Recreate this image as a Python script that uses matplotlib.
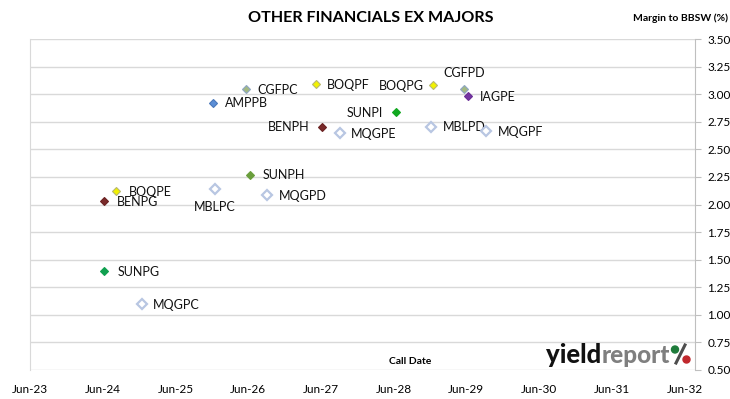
import matplotlib
matplotlib.use("Agg")
import matplotlib.pyplot as plt
import matplotlib.dates as mdates
import pandas as pd
from matplotlib.patches import Circle

# securities, call dates and margins
names = ["AMPPB", "CGFPC", "BOQPF", "BOQPG", "CGFPD", "IAGPE", "SUNPI", "BENPH", "MQGPE",
         "MBLPD", "MQGPF", "SUNPH", "BOQPE", "BENPG", "MBLPC", "MQGPD", "SUNPG", "MQGPC"]
call_dates = ["2025-12-20", "2026-06-05", "2027-05-20", "2029-01-01", "2029-06-05", "2029-06-25",
              "2028-06-25", "2027-06-20", "2027-09-20", "2028-12-20", "2029-09-20", "2026-06-25",
              "2024-08-20", "2024-06-20", "2025-12-28", "2026-09-20", "2024-06-22", "2024-12-28"]
margins = [2.92, 3.05, 3.09, 3.08, 3.05, 2.98, 2.84, 2.70, 2.65,
           2.70, 2.67, 2.27, 2.12, 2.03, 2.14, 2.09, 1.40, 1.10]

# marker style per security: (face, edge)
styles = {
    "AMPPB": ("#5B8ED6", "#4A78BA"),
    "CGFPC": ("#A3B982", "#8FA6C4"),
    "CGFPD": ("#A3B982", "#8FA6C4"),
    "BOQPF": ("#F2F200", "#B8B870"),
    "BOQPG": ("#F2F200", "#B8B870"),
    "BOQPE": ("#F2F200", "#B8B870"),
    "IAGPE": ("#7434A2", "#6A2E96"),
    "SUNPI": ("#11A820", "#11A820"),
    "SUNPG": ("#10A050", "#10A050"),
    "SUNPH": ("#6A9E3C", "#6A9E3C"),
    "BENPH": ("#7A2A2A", "#6A2222"),
    "BENPG": ("#7A2A2A", "#6A2222"),
}
hollow = ("white", "#B8C6E2")

# label placement: (dx px, dy px, ha)
label_pos = {
    "AMPPB": (12, 0, "left"), "CGFPC": (11, -1, "left"), "BOQPF": (11, -1, "left"),
    "BOQPG": (-10, -1, "right"), "CGFPD": (0, 16, "center"), "IAGPE": (12, -1, "left"),
    "SUNPI": (-13, -1, "right"), "BENPH": (-12, 0, "right"), "MQGPE": (11, -1, "left"),
    "MBLPD": (12, 0, "left"), "MQGPF": (12, -1, "left"), "SUNPH": (12, 0, "left"),
    "BOQPE": (13, -1, "left"), "BENPG": (13, -1, "left"), "MBLPC": (0, -18, "center"),
    "MQGPD": (11, -1, "left"), "SUNPG": (13, -1, "left"), "MQGPC": (11, -1, "left"),
}

tick_years = list(range(2023, 2033))

plt.rcParams["font.family"] = ["Lato", "DejaVu Sans"]

fig = plt.figure(figsize=(7.3, 3.99), dpi=100)
ax = fig.add_axes([30 / 730, 29 / 399, 665 / 730, 331 / 399])

dates = pd.to_datetime(call_dates)
for name, d, m in zip(names, dates, margins):
    face, edge = styles.get(name, hollow)
    is_hollow = name not in styles
    ax.plot(d, m, marker="D", ms=5 if is_hollow else 4.5, mfc=face, mec=edge,
            mew=1.6 if is_hollow else 0.8, ls="none", zorder=3)
    dx, dy, ha = label_pos[name]
    ax.annotate(name, (d, m), xytext=(dx, dy), textcoords="offset pixels",
                ha=ha, va="center", fontsize=9, color="#111111")

ax.set_xlim(pd.Timestamp("2023-06-15"), pd.Timestamp("2032-08-07"))
ax.set_xticks([pd.Timestamp(f"{y}-06-15") for y in tick_years])
ax.xaxis.set_major_formatter(mdates.DateFormatter("%b-%y"))
ax.set_ylim(0.5, 3.5)
ax.set_yticks([0.5 + 0.25 * i for i in range(13)])
ax.yaxis.set_major_formatter(matplotlib.ticker.FormatStrFormatter("%.2f"))
ax.yaxis.tick_right()

ax.grid(axis="y", color="#D9D9D9", lw=1)
ax.set_axisbelow(True)
for side in ["top", "bottom"]:
    ax.spines[side].set_visible(False)
ax.spines["left"].set_color("#D9D9D9")
ax.spines["right"].set_color("#BFBFBF")
ax.tick_params(axis="y", right=True, length=4, color="#BFBFBF", pad=5, labelsize=8.5)
ax.tick_params(axis="x", length=0, pad=10, labelsize=8.5)

fig.text(371 / 730, 0.955, "OTHER FINANCIALS EX MAJORS", ha="center", va="center",
         fontsize=11.6, fontweight="bold")
fig.text(0.997, 0.955, "Margin to BBSW (%)", ha="right", va="center",
         fontsize=7.5, fontweight="bold")
fig.text(410 / 730, 1 - 362 / 399, "Call Date", ha="center", va="center",
         fontsize=7.5, fontweight="bold")

# yieldreport logo
fig.text(601 / 730, 1 - 363 / 399, "yield", ha="right", va="baseline",
         fontsize=18.5, fontweight="black", color="#111111")
fig.text(602 / 730, 1 - 363 / 399, "report", ha="left", va="baseline",
         fontsize=17.5, fontweight="black", color="#7F7F7F")
fig.lines.append(plt.Line2D([676 / 730, 685 / 730], [1 - 363 / 399, 1 - 345 / 399],
                            transform=fig.transFigure, color="#4D4D4D", lw=2.2))
fig.patches.append(Circle((675, 399 - 349.5), 3.5, transform=None, color="#1E7B3A", zorder=5))
fig.patches.append(Circle((686.5, 399 - 359.5), 3.5, transform=None, color="#C0282D", zorder=5))

fig.savefig("out.png", dpi=100)
